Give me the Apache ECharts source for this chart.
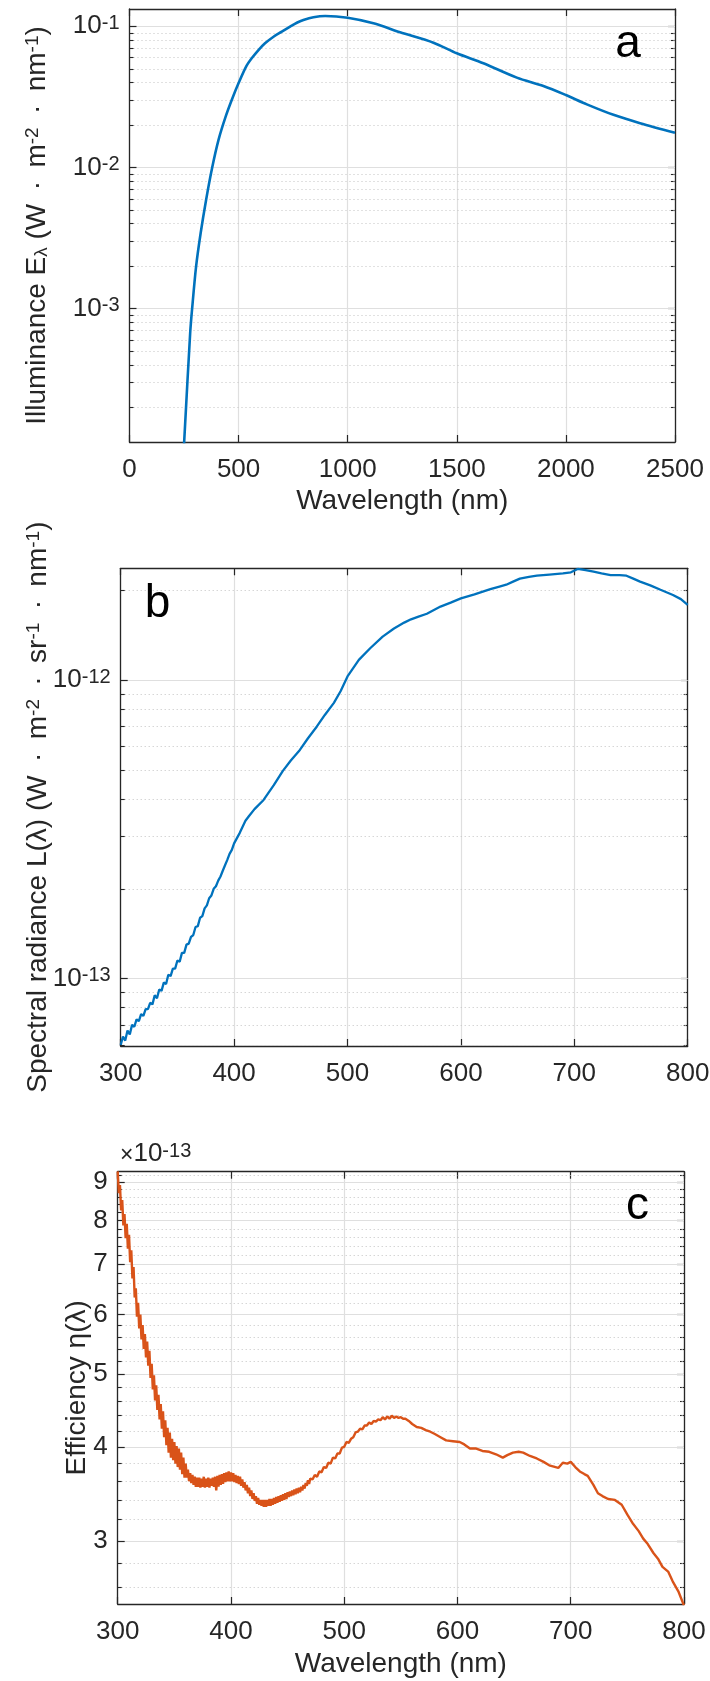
<!DOCTYPE html>
<html><head><meta charset="utf-8">
<script src="https://cdn.jsdelivr.net/npm/echarts@6/dist/echarts.min.js"></script>
<style>html,body{margin:0;padding:0;background:#fff}#chart{width:710px;height:1681px}</style>
</head><body><div id="chart"></div>
<script>
// ---------- Panel a: illuminance ----------
const aWavelength = [250, 278, 287, 305, 326, 351, 379, 408, 441, 469, 500, 535, 560, 591, 621, 660, 698, 736, 767, 797, 843, 897, 1000, 1118, 1240, 1393, 1500, 1622, 1775, 1897, 2000, 2096, 2218, 2340, 2500];
const aIlluminance = [1.1e-4, 6.7e-4, 1.0e-3, 1.98e-3, 3.42e-3, 5.89e-3, 1.0e-2, 1.57e-2, 2.3e-2, 3.02e-2, 3.96e-2, 5.2e-2, 5.93e-2, 6.79e-2, 7.58e-2, 8.44e-2, 9.16e-2, 9.94e-2, 0.106, 0.1108, 0.1159, 0.1183, 0.115, 0.105, 0.0907, 0.0765, 0.0644, 0.0547, 0.0433, 0.0378, 0.0326, 0.028, 0.0236, 0.0206, 0.01764];
const aXTicks = [0, 500, 1000, 1500, 2000, 2500];
const aYMajor = [1e-3, 1e-2, 1e-1];
const aYMinor = [2e-4, 3e-4, 4e-4, 5e-4, 6e-4, 7e-4, 8e-4, 9e-4, 2e-3, 3e-3, 4e-3, 5e-3, 6e-3, 7e-3, 8e-3, 9e-3, 2e-2, 3e-2, 4e-2, 5e-2, 6e-2, 7e-2, 8e-2, 9e-2];
const aYRange = [1.137e-4, 0.1326];

// ---------- Panel b: spectral radiance ----------
const bWavelength = [300, 302, 304, 306, 308, 310, 312, 314, 316, 318, 320, 322, 324, 326, 328, 330, 332, 334, 336, 338, 340, 342, 344, 346, 348, 350, 352, 354, 356, 358, 360, 362, 364, 366, 368, 370, 372, 374, 376, 378, 380, 382, 384, 386, 388, 390, 392, 394, 396, 398, 400, 405, 410, 413, 418, 426, 435, 443, 450, 458, 465, 473, 480, 488, 494, 500, 510, 520, 531, 541, 550, 556, 562, 570, 582, 591, 600, 612, 626, 634, 640, 646, 652, 660, 667, 678, 690, 697, 703, 710, 717, 724, 732, 740, 746, 752, 758, 767, 776, 787, 794, 800];
const bRadiance = [0.60e-13, 0.64e-13, 0.62e-13, 0.67e-13, 0.65e-13, 0.70e-13, 0.69e-13, 0.73e-13, 0.72e-13, 0.76e-13, 0.75e-13, 0.79e-13, 0.79e-13, 0.83e-13, 0.82e-13, 0.88e-13, 0.86e-13, 0.92e-13, 0.91e-13, 0.97e-13, 0.96e-13, 1.03e-13, 1.02e-13, 1.08e-13, 1.08e-13, 1.15e-13, 1.14e-13, 1.22e-13, 1.22e-13, 1.30e-13, 1.31e-13, 1.38e-13, 1.40e-13, 1.49e-13, 1.50e-13, 1.60e-13, 1.62e-13, 1.72e-13, 1.76e-13, 1.86e-13, 1.90e-13, 2.00e-13, 2.04e-13, 2.13e-13, 2.20e-13, 2.30e-13, 2.40e-13, 2.50e-13, 2.62e-13, 2.70e-13, 2.84e-13, 3.08e-13, 3.38e-13, 3.50e-13, 3.70e-13, 3.97e-13, 4.45e-13, 4.97e-13, 5.38e-13, 5.84e-13, 6.38e-13, 7.00e-13, 7.65e-13, 8.40e-13, 9.20e-13, 1.03e-12, 1.17e-12, 1.28e-12, 1.40e-12, 1.49e-12, 1.56e-12, 1.60e-12, 1.63e-12, 1.67e-12, 1.765e-12, 1.82e-12, 1.88e-12, 1.94e-12, 2.02e-12, 2.06e-12, 2.09e-12, 2.14e-12, 2.19e-12, 2.22e-12, 2.24e-12, 2.26e-12, 2.28e-12, 2.30e-12, 2.36e-12, 2.34e-12, 2.31e-12, 2.28e-12, 2.25e-12, 2.25e-12, 2.24e-12, 2.19e-12, 2.14e-12, 2.08e-12, 2.01e-12, 1.93e-12, 1.87e-12, 1.79e-12];
const bXTicks = [300, 400, 500, 600, 700, 800];
const bYMajor = [1e-13, 1e-12];
const bYMinor = [6e-14, 7e-14, 8e-14, 9e-14, 2e-13, 3e-13, 4e-13, 5e-13, 6e-13, 7e-13, 8e-13, 9e-13, 2e-12];
const bYRange = [5.947e-14, 2.372e-12];

// ---------- Panel c: efficiency ----------
const cWavelength = [300, 301, 302, 303, 304, 305, 306, 307, 308, 309, 310, 311, 312, 313, 314, 315, 316, 317, 318, 319, 320, 321, 322, 323, 324, 325, 326, 327, 328, 329, 330, 331, 332, 333, 334, 335, 336, 337, 338, 339, 340, 341, 342, 343, 344, 345, 346, 347, 348, 349, 350, 351, 352, 353, 354, 355, 356, 357, 358, 359, 360, 361, 362, 363, 364, 365, 366, 367, 368, 369, 370, 371, 372, 373, 374, 375, 376, 377, 378, 379, 380, 381, 382, 383, 384, 385, 386, 387, 388, 389, 390, 391, 392, 393, 394, 395, 396, 397, 398, 399, 400, 401, 402, 403, 404, 405, 406, 407, 408, 409, 410, 411, 412, 413, 414, 415, 416, 417, 418, 419, 420, 421, 422, 423, 424, 425, 426, 427, 428, 429, 430, 431, 432, 433, 434, 435, 436, 437, 438, 439, 440, 441, 442, 443, 444, 445, 446, 447, 448, 449, 450, 451, 452, 453, 454, 455, 456, 457, 458, 459, 460, 461, 462, 463, 464, 465, 466, 467, 468, 469, 470, 472, 474, 476, 478, 480, 482, 484, 486, 488, 490, 492, 494, 496, 498, 500, 502, 504, 506, 508, 510, 512, 514, 516, 518, 520, 522, 524, 526, 528, 530, 532, 534, 536, 538, 540, 542, 544, 546, 548, 550, 552, 554, 557, 560, 564, 568, 572, 576, 580, 585, 590, 596, 602, 606, 611, 616, 622, 628, 634, 640, 644, 649, 654, 658, 664, 670, 676, 681, 689, 693, 697, 700, 704, 708, 712, 715, 720, 724, 728, 733, 739, 745, 750, 755, 760, 764, 768, 773, 777, 781, 786, 790, 795, 800];
const cEfficiency = [9.30e-13, 8.70e-13, 8.92e-13, 8.25e-13, 8.52e-13, 7.88e-13, 8.16e-13, 7.58e-13, 7.92e-13, 7.34e-13, 7.66e-13, 7.04e-13, 7.30e-13, 6.70e-13, 6.94e-13, 6.32e-13, 6.50e-13, 5.96e-13, 6.22e-13, 5.75e-13, 6.00e-13, 5.56e-13, 5.81e-13, 5.40e-13, 5.65e-13, 5.26e-13, 5.52e-13, 5.13e-13, 5.37e-13, 4.94e-13, 5.16e-13, 4.77e-13, 4.98e-13, 4.61e-13, 4.83e-13, 4.48e-13, 4.69e-13, 4.35e-13, 4.56e-13, 4.23e-13, 4.46e-13, 4.12e-13, 4.34e-13, 4.02e-13, 4.24e-13, 3.93e-13, 4.18e-13, 3.87e-13, 4.10e-13, 3.84e-13, 4.06e-13, 3.80e-13, 4.01e-13, 3.76e-13, 3.98e-13, 3.73e-13, 3.93e-13, 3.68e-13, 3.87e-13, 3.64e-13, 3.80e-13, 3.64e-13, 3.73e-13, 3.60e-13, 3.69e-13, 3.58e-13, 3.67e-13, 3.56e-13, 3.65e-13, 3.54e-13, 3.64e-13, 3.54e-13, 3.64e-13, 3.53e-13, 3.63e-13, 3.54e-13, 3.65e-13, 3.53e-13, 3.63e-13, 3.54e-13, 3.64e-13, 3.53e-13, 3.63e-13, 3.55e-13, 3.64e-13, 3.54e-13, 3.65e-13, 3.50e-13, 3.66e-13, 3.54e-13, 3.67e-13, 3.56e-13, 3.68e-13, 3.57e-13, 3.69e-13, 3.59e-13, 3.70e-13, 3.60e-13, 3.71e-13, 3.60e-13, 3.70e-13, 3.60e-13, 3.69e-13, 3.59e-13, 3.67e-13, 3.58e-13, 3.66e-13, 3.57e-13, 3.65e-13, 3.55e-13, 3.62e-13, 3.53e-13, 3.59e-13, 3.50e-13, 3.56e-13, 3.47e-13, 3.53e-13, 3.44e-13, 3.50e-13, 3.41e-13, 3.47e-13, 3.39e-13, 3.44e-13, 3.36e-13, 3.42e-13, 3.35e-13, 3.40e-13, 3.34e-13, 3.40e-13, 3.33e-13, 3.40e-13, 3.33e-13, 3.40e-13, 3.34e-13, 3.41e-13, 3.34e-13, 3.41e-13, 3.35e-13, 3.42e-13, 3.36e-13, 3.43e-13, 3.37e-13, 3.44e-13, 3.38e-13, 3.45e-13, 3.39e-13, 3.46e-13, 3.40e-13, 3.47e-13, 3.41e-13, 3.48e-13, 3.43e-13, 3.49e-13, 3.44e-13, 3.50e-13, 3.45e-13, 3.51e-13, 3.46e-13, 3.52e-13, 3.47e-13, 3.53e-13, 3.48e-13, 3.54e-13, 3.50e-13, 3.56e-13, 3.52e-13, 3.58e-13, 3.55e-13, 3.61e-13, 3.57e-13, 3.63e-13, 3.62e-13, 3.67e-13, 3.65e-13, 3.71e-13, 3.70e-13, 3.76e-13, 3.75e-13, 3.81e-13, 3.80e-13, 3.87e-13, 3.86e-13, 3.92e-13, 3.92e-13, 3.99e-13, 4.00e-13, 4.06e-13, 4.05e-13, 4.10e-13, 4.12e-13, 4.18e-13, 4.19e-13, 4.23e-13, 4.22e-13, 4.27e-13, 4.27e-13, 4.31e-13, 4.29e-13, 4.33e-13, 4.32e-13, 4.35e-13, 4.34e-13, 4.38e-13, 4.35e-13, 4.39e-13, 4.36e-13, 4.40e-13, 4.37e-13, 4.39e-13, 4.37e-13, 4.38e-13, 4.36e-13, 4.36e-13, 4.33e-13, 4.29e-13, 4.25e-13, 4.24e-13, 4.21e-13, 4.19e-13, 4.16e-13, 4.12e-13, 4.08e-13, 4.07e-13, 4.06e-13, 4.03e-13, 3.98e-13, 3.98e-13, 3.95e-13, 3.94e-13, 3.91e-13, 3.87e-13, 3.90e-13, 3.93e-13, 3.94e-13, 3.93e-13, 3.89e-13, 3.86e-13, 3.82e-13, 3.78e-13, 3.75e-13, 3.81e-13, 3.80e-13, 3.82e-13, 3.76e-13, 3.71e-13, 3.68e-13, 3.66e-13, 3.56e-13, 3.47e-13, 3.44e-13, 3.41e-13, 3.40e-13, 3.35e-13, 3.25e-13, 3.16e-13, 3.09e-13, 3.02e-13, 2.97e-13, 2.89e-13, 2.84e-13, 2.77e-13, 2.73e-13, 2.65e-13, 2.57e-13, 2.46e-13];
const cXTicks = [300, 400, 500, 600, 700, 800];
const cYMajor = [3e-13, 4e-13, 5e-13, 6e-13, 7e-13, 8e-13, 9e-13];
const cYMinor = [2.6e-13, 2.8e-13, 3.2e-13, 3.4e-13, 3.6e-13, 3.8e-13, 4.2e-13, 4.4e-13, 4.6e-13, 4.8e-13, 5.2e-13, 5.4e-13, 5.6e-13, 5.8e-13, 6.2e-13, 6.4e-13, 6.6e-13, 6.8e-13, 7.2e-13, 7.4e-13, 7.6e-13, 7.8e-13, 8.2e-13, 8.4e-13, 8.6e-13, 8.8e-13, 9.2e-13];
const cYRange = [2.472e-13, 9.29e-13];

// ---------- styling ----------
const FONT = '"Liberation Sans", Arial, Helvetica, sans-serif';
const TXT = '#262626';
const GRID_MAJOR = '#dfdfdf';
const GRID_MINOR = '#c3c3c3';
const TICK_FS = 26, TICK_SUP = 20, NAME_FS = 28, NAME_SUP = 19;

const chart = echarts.init(document.getElementById('chart'), null, {renderer: 'canvas'});
const L10 = v => Math.log10(v);
const zip = (xs, ys) => xs.map((x, i) => [x, ys[i]]);

const grids = [
  {left: 129.5, top: 9, width: 545.5, height: 433},
  {left: 120.7, top: 568.3, width: 567, height: 477.7},
  {left: 117.7, top: 1171.7, width: 566.3, height: 432.3}
].map(g => Object.assign({containLabel: false, outerBoundsMode: 'none', show: false}, g));

function xAxes(gi, ticks, name, nameGap) {
  const base = {type: 'value', gridIndex: gi, min: ticks[0], max: ticks[ticks.length - 1], interval: ticks[1] - ticks[0]};
  return [
    Object.assign({}, base, {
      position: 'bottom',
      name: name || '', nameLocation: 'middle', nameGap: nameGap || 44, nameMoveOverlap: false,
      nameTextStyle: {fontSize: NAME_FS, color: TXT, fontFamily: FONT},
      axisLine: {show: true, onZero: false, lineStyle: {color: TXT, width: 1.3}},
      axisTick: {show: true, inside: true, length: 7, lineStyle: {color: TXT, width: 1.2}},
      axisLabel: {show: true, margin: 15, fontSize: TICK_FS, color: TXT, fontFamily: FONT, showMinLabel: true, showMaxLabel: true, hideOverlap: false,
        formatter: v => String(v)},
      splitLine: {show: true, lineStyle: {color: GRID_MAJOR, width: 1.2}}
    }),
    Object.assign({}, base, {
      position: 'top',
      axisLine: {show: true, onZero: false, lineStyle: {color: TXT, width: 1.3}},
      axisTick: {show: true, inside: true, length: 7, lineStyle: {color: TXT, width: 1.2}},
      axisLabel: {show: false},
      splitLine: {show: false}
    })
  ];
}

function yAxes(gi, range, major, minor, fmt, rich, name, nameGap) {
  const lo = L10(range[0]), hi = L10(range[1]);
  const base = {type: 'value', gridIndex: gi, min: lo, max: hi};
  const majV = major.map(L10), minV = minor.map(L10);
  return [
    {type: 'log', logBase: 10, gridIndex: gi, min: range[0], max: range[1], show: false},
    Object.assign({}, base, {
      position: 'left',
      name: name, nameLocation: 'middle', nameRotate: 90, nameGap: nameGap, nameMoveOverlap: false,
      nameTextStyle: {fontSize: NAME_FS, color: TXT, fontFamily: FONT,
        rich: {
          sup: {fontSize: NAME_SUP, color: TXT, fontFamily: FONT, verticalAlign: 'top'},
          sub: {fontSize: NAME_SUP, color: TXT, fontFamily: FONT, verticalAlign: 'bottom'}
        }},
      axisLine: {show: true, onZero: false, lineStyle: {color: TXT, width: 1.3}},
      axisTick: {show: true, inside: true, length: 7, customValues: majV, lineStyle: {color: TXT, width: 1.2}},
      axisLabel: {show: true, customValues: majV, margin: 10, fontSize: TICK_FS, color: TXT, fontFamily: FONT, formatter: fmt, rich: rich},
      splitLine: {show: true, lineStyle: {color: GRID_MAJOR, width: 1.2}},
      z: 3
    }),
    Object.assign({}, base, {
      position: 'left',
      axisLine: {show: false},
      axisTick: {show: true, inside: true, length: 4, customValues: minV, lineStyle: {color: TXT, width: 1.1}},
      axisLabel: {show: false},
      splitLine: {show: true, lineStyle: {color: GRID_MINOR, width: 1, type: [1, 3]}},
      z: 2
    }),
    Object.assign({}, base, {
      position: 'right',
      axisLine: {show: true, onZero: false, lineStyle: {color: TXT, width: 1.3}},
      axisTick: {show: true, inside: true, length: 7, customValues: majV, lineStyle: {color: TXT, width: 1.2}},
      axisLabel: {show: false},
      splitLine: {show: false}
    }),
    Object.assign({}, base, {
      position: 'right',
      axisLine: {show: false},
      axisTick: {show: true, inside: true, length: 4, customValues: minV, lineStyle: {color: TXT, width: 1.1}},
      axisLabel: {show: false},
      splitLine: {show: false}
    })
  ];
}

const powRich = {
  b: {fontSize: TICK_FS, color: TXT, fontFamily: FONT, verticalAlign: 'bottom'},
  s: {fontSize: TICK_SUP, color: TXT, fontFamily: FONT, verticalAlign: 'top'}
};
const powFmt = v => '{b|10}{s|' + Math.round(v) + '}';
const mantFmt = v => String(Math.round(Math.pow(10, v) * 1e13));
const DOT = ' \u2009·\u2009 ';

const xAxis = [].concat(
  xAxes(0, aXTicks, 'Wavelength (nm)', 45),
  xAxes(1, bXTicks, ''),
  xAxes(2, cXTicks, 'Wavelength (nm)', 46)
);
const yAxis = [].concat(
  yAxes(0, aYRange, aYMajor, aYMinor, powFmt, powRich, 'Illuminance E{sub|λ} (W' + DOT + 'm{sup|-2}' + DOT + 'nm{sup|-1})', 78.5),
  yAxes(1, bYRange, bYMajor, bYMinor, powFmt, powRich, 'Spectral radiance L(λ) (W' + DOT + 'm{sup|-2}' + DOT + 'sr{sup|-1}' + DOT + 'nm{sup|-1})', 68.5),
  yAxes(2, cYRange, cYMajor, cYMinor, mantFmt, {}, 'Efficiency η(λ)', 26)
);

const letterStyle = {fontSize: 46, fontFamily: FONT, fill: '#000', align: 'center', verticalAlign: 'middle'};

const option = {
  backgroundColor: '#fff',
  animation: false,
  grid: grids,
  xAxis: xAxis,
  yAxis: yAxis,
  series: [
    {type: 'line', xAxisIndex: 0, yAxisIndex: 0, data: zip(aWavelength, aIlluminance), showSymbol: false, smooth: 0.3,
      lineStyle: {color: '#0072BD', width: 2.6}, itemStyle: {color: '#0072BD'}, z: 5},
    {type: 'line', xAxisIndex: 2, yAxisIndex: 5, data: zip(bWavelength, bRadiance), showSymbol: false,
      lineStyle: {color: '#0072BD', width: 2.3}, itemStyle: {color: '#0072BD'}, z: 5},
    {type: 'line', xAxisIndex: 4, yAxisIndex: 10, data: zip(cWavelength, cEfficiency), showSymbol: false,
      lineStyle: {color: '#D95319', width: 2.4}, itemStyle: {color: '#D95319'}, z: 5}
  ],
  graphic: [
    {type: 'text', x: 628, y: 44, style: Object.assign({text: 'a'}, letterStyle), z: 10},
    {type: 'text', x: 157.5, y: 604, style: Object.assign({text: 'b'}, letterStyle), z: 10},
    {type: 'text', x: 637.5, y: 1206, style: Object.assign({text: 'c'}, letterStyle), z: 10},
    {type: 'text', x: 120, y: 1154, z: 10, style: {
      text: '{x|×}{b|10}{s|-13}', align: 'left', verticalAlign: 'middle',
      rich: {
        x: {fontSize: 23, fill: TXT, fontFamily: FONT, verticalAlign: 'bottom'},
        b: {fontSize: TICK_FS, fill: TXT, fontFamily: FONT, verticalAlign: 'bottom'},
        s: {fontSize: TICK_SUP, fill: TXT, fontFamily: FONT, verticalAlign: 'top'}
      }}}
  ]
};
chart.setOption(option);
</script></body></html>
